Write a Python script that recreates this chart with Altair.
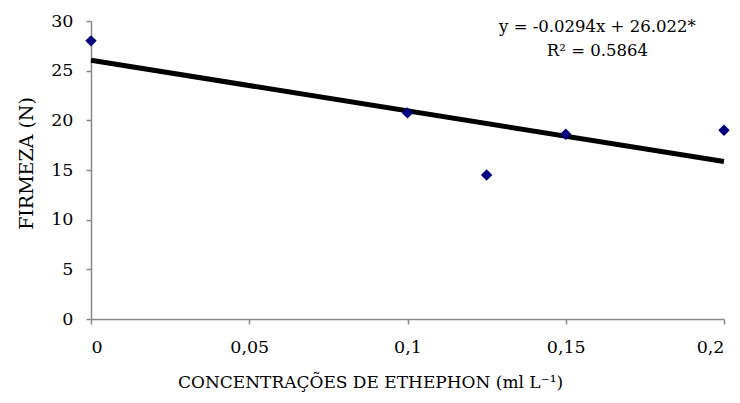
import altair as alt
import pandas as pd

conc = [0.0, 0.1, 0.125, 0.15, 0.2]
firmeza = [28.0, 20.75, 14.5, 18.6, 19.0]

trend_x = [0.0, 0.2]
trend_y = [26.05, 15.85]

eq_text = ["y = -0.0294x + 26.022*", "R² = 0.5864"]
eq_x = [0.16, 0.16]
eq_y = [29.35, 27.0]

pts = pd.DataFrame({"x": conc, "y": firmeza})
trend = pd.DataFrame({"x": trend_x, "y": trend_y})
eq = pd.DataFrame({"t": eq_text, "x": eq_x, "y": eq_y})

FONT = "DejaVu Serif"

xs = alt.Scale(domain=[0, 0.2], nice=False, zero=False)
ys = alt.Scale(domain=[0, 30], nice=False)

xaxis = alt.Axis(
    values=[0, 0.05, 0.1, 0.15, 0.2],
    labelExpr="replace(format(datum.value, '~g'), '.', ',')",
    title="CONCENTRAÇÕES DE ETHEPHON (ml L⁻¹)",
    titleX=279,
    titleFontSize=17,
    grid=False,
)
yaxis = alt.Axis(
    values=[0, 5, 10, 15, 20, 25, 30],
    title="FIRMEZA (N)",
    titleY=142,
    titleFontSize=19,
    grid=False,
)

line = alt.Chart(trend).mark_line(color="black", strokeWidth=5).encode(
    x=alt.X("x:Q", scale=xs, axis=xaxis),
    y=alt.Y("y:Q", scale=ys, axis=yaxis),
)

points = alt.Chart(pts).mark_point(
    shape="diamond", filled=True, color="#000080", size=130, opacity=1
).encode(x=alt.X("x:Q", scale=xs), y=alt.Y("y:Q", scale=ys))

text = alt.Chart(eq).mark_text(
    font=FONT, fontSize=16.5, color="black", align="center", baseline="middle"
).encode(x=alt.X("x:Q", scale=xs), y=alt.Y("y:Q", scale=ys), text="t:N")

chart = (
    alt.layer(line, points, text)
    .properties(
        width=633,
        height=298,
        autosize=alt.AutoSizeParams(type="none"),
        padding={"left": 83, "top": 13, "right": 8, "bottom": 76},
    )
    .configure_view(stroke=None)
    .configure_axis(
        labelFont=FONT,
        titleFont=FONT,
        labelFontSize=17.5,
        labelColor="black",
        titleColor="black",
        titleFontWeight="normal",
        domainColor="#888888",
        tickColor="#888888",
        tickSize=5,
        domainWidth=1.5,
        tickWidth=1.5,
    )
    .configure_axisX(labelPadding=14, titlePadding=19)
    .configure_axisY(labelPadding=13, titlePadding=14)
)

chart.save("out.html", embed_options={"renderer": "svg", "actions": False})
